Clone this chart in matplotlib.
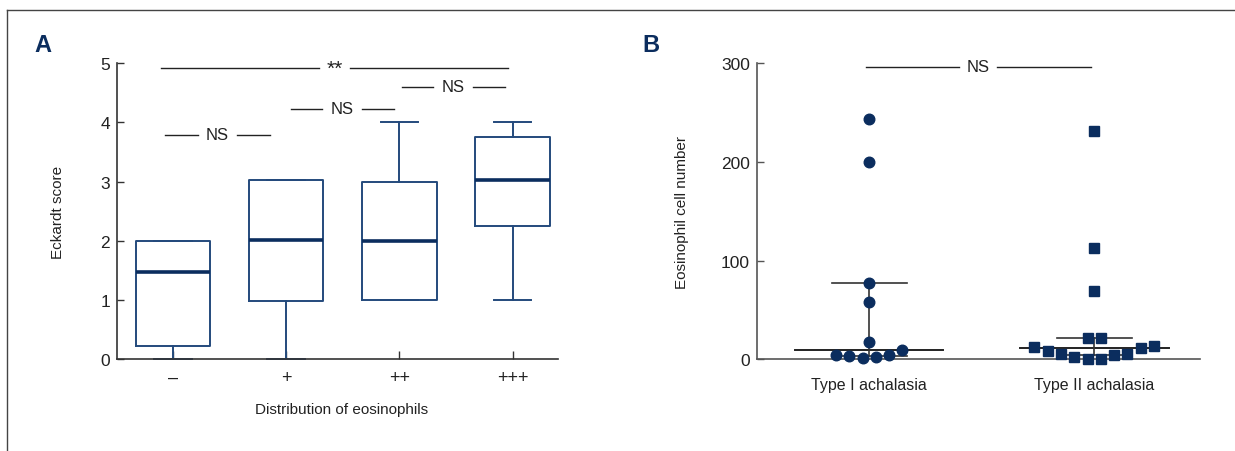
import numpy as np
import matplotlib
matplotlib.use("Agg")
import matplotlib.pyplot as plt
from matplotlib.lines import Line2D

plt.rcParams['font.family'] = ['Liberation Sans', 'DejaVu Sans']

# ---- panel A: Eckardt score by eosinophil distribution (box plots)
groups_a = ["\u2013", "+", "++", "+++"]
q1_a = [0.22, 0.98, 1.0, 2.25]
med_a = [1.48, 2.02, 2.0, 3.02]
q3_a = [2.0, 3.02, 3.0, 3.75]
whislo_a = [0.0, 0.0, 1.0, 1.0]
whishi_a = [2.0, 3.02, 4.0, 4.0]
yticks_a = [0, 1, 2, 3, 4, 5]

# comparisons: (start, end, label, level)
comp_a = [(0.93, 1.855, "NS", 3.79),
          (2.04, 2.95, "NS", 4.23),
          (3.02, 3.93, "NS", 4.60),
          (0.894, 3.96, "**", 4.92)]

# ---- panel B: eosinophil cell number by achalasia type
groups_b = ["Type I achalasia", "Type II achalasia"]
type1 = [243, 200, 77, 58, 17.5, 9.4, 4.4, 3.3, 1.0, 2.0, 4.1]
type2 = [231, 112.5, 69, 21.6, 21.6, 13.2, 12.2, 11.1, 8.1, 5.1, 5.1, 4.1, 2.6, 0.6, 0.0]
yticks_b = [0, 100, 200, 300]
comp_b = [(0.984, 1.985, "NS", 296)]

navy = "#0b2d5e"
boxblue = "#244a7c"
dark = "#333333"
txt = "#222222"
FS = 11


def swarm_x(vals, center, step, binw):
    # prism-like layout: values in the same bin go in a row, filled centre-out
    vals = np.asarray(vals, dtype=float)
    xs = np.full(len(vals), float(center))
    bins = np.floor(vals / binw).astype(int)
    for b in np.unique(bins):
        idx = np.where(bins == b)[0]
        idx = idx[np.argsort(vals[idx], kind="stable")]
        n = len(idx)
        order = []
        l, r = (n - 1) // 2, (n - 1) // 2 + 1
        while len(order) < n:
            if l >= 0:
                order.append(l)
                l -= 1
            if r < n and len(order) < n:
                order.append(r)
                r += 1
        for k, slot in zip(idx, order):
            xs[k] = center + (slot - (n - 1) / 2) * step
    return xs


def sig_line(ax, x0, x1, label, y, gap, color="#222222"):
    xc = (x0 + x1) / 2
    ax.plot([x0, xc - gap], [y, y], color=color, lw=1.0, clip_on=False)
    ax.plot([xc + gap, x1], [y, y], color=color, lw=1.0, clip_on=False)
    if label == "**":
        ax.text(xc, y, label, ha="center", va="center", fontsize=15, color=txt)
    else:
        ax.text(xc, y, label, ha="center", va="center", fontsize=12, color=txt)


fig = plt.figure(figsize=(12.35, 4.52), dpi=100)

# outer frame (top and left only)
fig.add_artist(Line2D([7 / 1235, 1], [1 - 11 / 452] * 2, color="#444444", lw=1.0))
fig.add_artist(Line2D([7 / 1235] * 2, [0, 1 - 11 / 452], color="#444444", lw=1.0))

# ---------------- panel A
axA = fig.add_axes([0.0947, 0.2029, 0.357, 0.6549])
stats = []
for i in range(len(groups_a)):
    stats.append(dict(q1=q1_a[i], med=med_a[i], q3=q3_a[i],
                      whislo=whislo_a[i], whishi=whishi_a[i], fliers=[]))
pos = np.arange(1, len(groups_a) + 1)
bp = axA.bxp(stats, positions=pos, widths=0.66, capwidths=0.33, showfliers=False,
             boxprops=dict(color=boxblue, lw=1.4),
             whiskerprops=dict(color=boxblue, lw=1.4),
             capprops=dict(color=boxblue, lw=1.4),
             medianprops=dict(color=navy, lw=2.6))
for key in bp:
    for art in bp[key]:
        art.set_clip_on(False)

axA.set_xlim(0.506, 4.40)
axA.set_ylim(0, 5)
axA.set_yticks(yticks_a)
axA.set_xticks(pos)
axA.set_xticklabels(groups_a)
for s in ["top", "right"]:
    axA.spines[s].set_visible(False)
for s in ["left", "bottom"]:
    axA.spines[s].set_color(dark)
    axA.spines[s].set_linewidth(1.2)
axA.tick_params(axis="y", direction="in", length=5, width=1.0, color=dark,
                labelsize=12.5, pad=5, labelcolor=txt)
axA.tick_params(axis="x", direction="in", length=6, width=1.0, color=dark,
                labelsize=13, pad=7, labelcolor=txt)
axA.set_ylabel("Eckardt score", fontsize=FS, color=txt)
axA.yaxis.set_label_coords(-0.118, 0.5)
axA.set_xlabel("Distribution of eosinophils", fontsize=FS, color=txt)
axA.xaxis.set_label_coords(0.509, -0.144)
for x0, x1, lab, y in comp_a:
    sig_line(axA, x0, x1, lab, y, 0.175 if lab == "NS" else 0.14)
fig.text(42.7 / 1235, 1 - 46 / 452, "A", fontsize=17, fontweight="bold", color=navy,
         ha="center", va="center")

# ---------------- panel B
axB = fig.add_axes([0.613, 0.2029, 0.3587, 0.6555])
step = 0.059
for i, (vals, mk) in enumerate([(type1, "o"), (type2, "s")]):
    c = i + 1
    xs = swarm_x(vals, c, step, 15)
    axB.plot(xs, vals, mk, color=navy, ms=7.6 if mk == "o" else 7.0, mec=navy,
             clip_on=False, zorder=3)
    qlo, qmed, qhi = np.percentile(vals, [25, 50, 75], method="weibull")
    axB.plot([c - 0.33, c + 0.33], [qmed, qmed], color="#222222", lw=1.4, zorder=2)
    axB.plot([c - 0.167, c + 0.167], [qlo, qlo], color="#333333", lw=1.2, zorder=2)
    axB.plot([c - 0.167, c + 0.167], [qhi, qhi], color="#333333", lw=1.2, zorder=2)
    axB.plot([c, c], [qlo, qhi], color="#333333", lw=1.2, zorder=2)

axB.set_xlim(0.502, 2.47)
axB.set_ylim(0, 300)
axB.set_yticks(yticks_b)
axB.set_xticks([1, 2])
axB.set_xticklabels(groups_b)
for s in ["top", "right"]:
    axB.spines[s].set_visible(False)
for s in ["left", "bottom"]:
    axB.spines[s].set_color("#555555")
    axB.spines[s].set_linewidth(1.2)
axB.tick_params(axis="y", direction="in", length=5, width=1.0, color="#555555",
                labelsize=12.5, pad=5, labelcolor=txt)
axB.tick_params(axis="x", length=0, labelsize=FS + 0.5, pad=13, labelcolor=txt)
axB.set_ylabel("Eosinophil cell number", fontsize=FS, color=txt)
axB.yaxis.set_label_coords(-0.153, 0.5)
for x0, x1, lab, y in comp_b:
    sig_line(axB, x0, x1, lab, y, 0.085)
fig.text(651 / 1235, 1 - 45 / 452, "B", fontsize=17, fontweight="bold", color=navy,
         ha="center", va="center")

fig.savefig("out.png", dpi=100)
